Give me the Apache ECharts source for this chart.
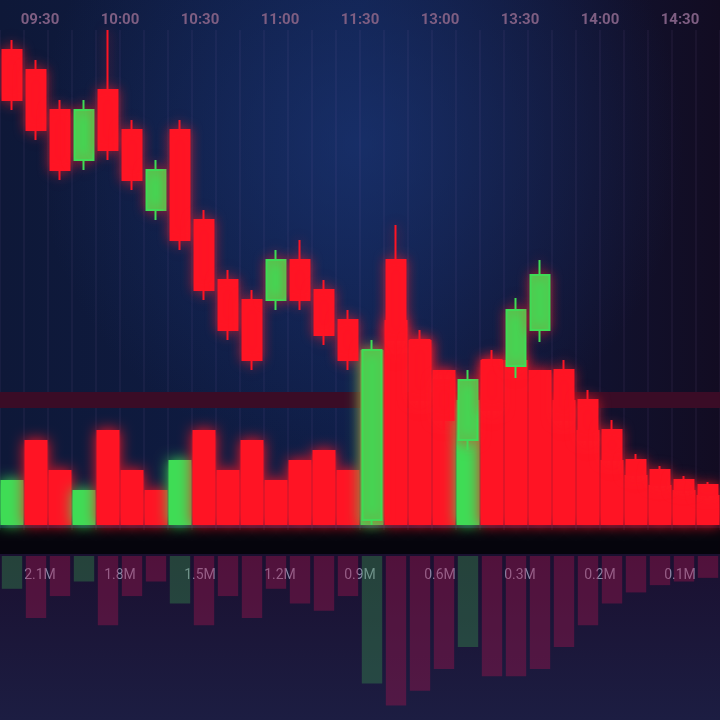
<!DOCTYPE html>
<html><head><meta charset="utf-8">
<script src="https://cdn.jsdelivr.net/npm/echarts@6/dist/echarts.min.js"></script>
<style>html,body{margin:0;padding:0;background:#0a0c22;}#c{width:720px;height:720px;}</style>
</head><body><div id="c"></div>
<script>
var categories = ['1','2','3','4','5','6','7','8','9','10','11','12','13','14','15','16','17','18','19','20','21','22','23','24','25','26','27','28','29','30'];
// [open, close, low, high]
var candles = [
 [120,107.5,105,122.5],[115,100,97.5,117.5],[105,90,87.5,107.5],[92.5,105,90,107.5],
 [110,95,92.5,125],[100,87.5,85,102.5],[80,90,77.5,92.5],[100,72.5,70,102.5],
 [77.5,60,57.5,80],[62.5,50,47.5,65],[57.5,42.5,40,60],[57.5,67.5,55,70],
 [67.5,57.5,55,72.5],[60,48.75,46.25,62.5],[52.5,42.5,40,55],[2.5,45,1.25,47.5],
 [67.5,47.5,42.5,76.25],[47.5,32.5,30,50],[37.5,27.5,25,40],[22.5,37.5,20,40],
 [42.5,30,27.5,45],[41,55,38,58],[50,63.75,47,67.5],[40,27.5,25,42.5],
 [32.5,22.5,20,35],[25,17.5,15,27.5],[17.5,13.75,12,19],[15,11.25,10,16],
 [12.5,10,9,13.5],[11.25,8.75,8,12]
];
var volumes = [45,85,55,35,95,55,35,65,95,55,85,45,65,75,55,175,205,185,155,125,165,165,155,125,95,65,50,40,35,30];
var volumeUp = [1,0,0,1,0,0,0,1,0,0,0,0,0,0,0,1,0,0,0,1,0,0,0,0,0,0,0,0,0,0];
var topLabels = ['09:30','10:00','10:30','11:00','11:30','13:00','13:30','14:00','14:30'];
var bottomLabels = ['2.1M','1.8M','1.5M','1.2M','0.9M','0.6M','0.3M','0.2M','0.1M'];
var bandLevel = [32.5];

var RED = '#ff1424', GREEN = '#3fdc55';
var chart = echarts.init(document.getElementById('c'));
var volData = volumes.map(function(v,i){
  var c = volumeUp[i] ? GREEN : RED;
  return {value:v, itemStyle:{color:c, shadowColor:c, shadowBlur:14}};
});
var reflData = volumes.map(function(v,i){
  return {value:v, itemStyle:{color: volumeUp[i] ? 'rgba(60,160,80,0.35)' : 'rgba(170,20,80,0.38)'}};
});
chart.setOption({
  animation:false,
  backgroundColor:'#0a0c22',
  graphic:[
    {type:'rect', z:-10, shape:{x:0,y:0,width:720,height:720},
     style:{fill:new echarts.graphic.LinearGradient(0,0,1,0,[{offset:0,color:'#0e1838'},{offset:0.5,color:'#0f1d46'},{offset:1,color:'#120c22'}])}},
    {type:'rect', z:-9, shape:{x:0,y:0,width:720,height:720},
     style:{fill:new echarts.graphic.RadialGradient(0.5,0.2,0.45,[{offset:0,color:'rgba(30,60,130,0.55)'},{offset:1,color:'rgba(30,60,130,0)'}])}},
    {type:'rect', z:-8, shape:{x:0,y:528,width:720,height:26}, style:{fill:'#05040c'}},
    {type:'rect', z:-8, shape:{x:0,y:554,width:720,height:166},
     style:{fill:new echarts.graphic.LinearGradient(0,0,0,1,[{offset:0,color:'#1a1030'},{offset:1,color:'#1c1d42'}])}}
  ],
  grid:[
    {left:0,right:0,top:30,height:500},
    {left:0,right:0,top:300,height:225},
    {left:0,right:0,top:556,height:164}
  ],
  xAxis:[
    {type:'category', data:categories, gridIndex:0, boundaryGap:true,
     axisLine:{show:false}, axisTick:{show:false}, axisLabel:{show:false},
     splitLine:{show:true, lineStyle:{color:'rgba(160,120,180,0.07)', width:2}}},
    {type:'category', data:categories, gridIndex:1, axisLine:{show:false}, axisTick:{show:false}, axisLabel:{show:false}},
    {type:'category', data:categories, gridIndex:2, axisLine:{show:false}, axisTick:{show:false}, axisLabel:{show:false}},
    {type:'category', data:topLabels, gridIndex:0, position:'top',
     axisLine:{show:false}, axisTick:{show:false},
     axisLabel:{color:'#7e5e82', fontSize:15, fontFamily:'Roboto', fontWeight:'bold', margin:2}},
    {type:'category', data:bottomLabels, gridIndex:2, position:'top',
     axisLine:{show:false}, axisTick:{show:false},
     axisLabel:{color:'#8a8aa8', fontSize:14, fontFamily:'Roboto', margin:-26}}
  ],
  yAxis:[
    {type:'value', gridIndex:0, min:0, max:125, show:false},
    {type:'value', gridIndex:1, min:0, max:225, show:false},
    {type:'value', gridIndex:2, min:0, max:225, inverse:true, show:false}
  ],
  series:[
    {type:'line', xAxisIndex:0, yAxisIndex:0, data:[], z:0,
     markLine:{silent:true, z:0, symbol:'none', label:{show:false},
       lineStyle:{color:'#3a0c26', width:16, type:'solid'},
       data:bandLevel.map(function(v){return {yAxis:v};})}},
    {type:'bar', xAxisIndex:2, yAxisIndex:2, data:reflData, barCategoryGap:'15%', z:1},
    {type:'bar', xAxisIndex:1, yAxisIndex:1, data:volData, barCategoryGap:'4%', z:2},
    {type:'candlestick', xAxisIndex:0, yAxisIndex:0, data:candles, barWidth:'80%', z:3,
     itemStyle:{color:GREEN, color0:RED, borderColor:GREEN, borderColor0:RED, borderWidth:2, shadowBlur:12, shadowColor:'rgba(255,30,40,0.6)'}}
  ]
});
</script></body></html>
